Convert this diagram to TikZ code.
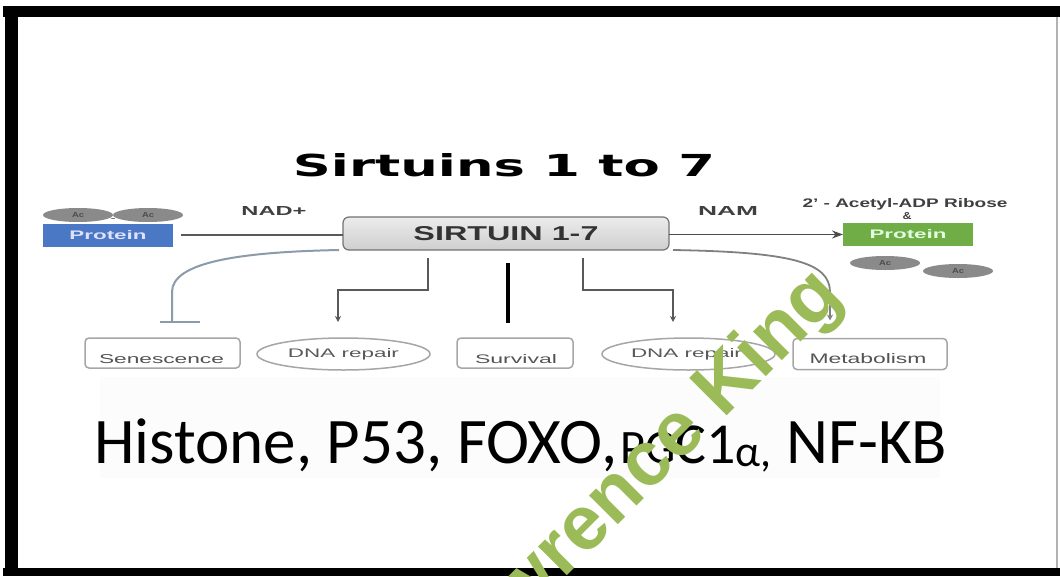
\documentclass[tikz,border=0pt]{standalone}
\usepackage{fontspec}
\setmainfont{Liberation Sans}
\newfontfamily\calib{Carlito}
\newfontfamily\heavy{DejaVu Sans}
\usetikzlibrary{arrows.meta,calc,shapes.geometric}
\definecolor{protblue}{HTML}{4A78C4}
\definecolor{protgreen}{HTML}{70AD47}
\definecolor{wmgreen}{HTML}{9BBB59}
\definecolor{acgray}{HTML}{8A8A8A}
\definecolor{inhib}{HTML}{8C9BAA}
\newcommand{\fitt}[3]{\resizebox{#1pt}{#2pt}{#3}}
\begin{document}
\begin{tikzpicture}[x=1pt,y=-1pt,
  every node/.style={inner sep=0pt, outer sep=0pt},
  boxr/.style={draw=gray!70, line width=1.5pt, rounded corners=4pt, fill=white},
  ellr/.style={ellipse, draw=gray!70, line width=1.5pt, fill=white},
  lbl/.style={text=gray!65!black, anchor=base},
  blbl/.style={text=black!75, font=\bfseries, anchor=base},
  acdisc/.style={ellipse, fill=acgray, minimum width=70pt, minimum height=14pt, text=black!70, font=\bfseries},
  conn/.style={draw=black!65, line width=1.4pt},
  smallarrow/.style={-{Stealth[length=6pt,width=6pt]}},
]
\useasboundingbox (0,0) rectangle (1060,576);
% frame
\fill[white] (0,0) rectangle (1060,576);
\fill[black] (3,6) rectangle (1060,17);
\fill[black] (5,6) rectangle (18,576);
\fill[black] (3,568) rectangle (1060,576);
\draw[gray!60, line width=1.2pt] (1057,17) -- (1057,568);
\fill[gray!2.5] (100,377) rectangle (940,478);

% title
\node[font=\heavy\bfseries] (title) at (504,165) {\fitt{422}{23}{Sirtuins 1 to 7}};

% left protein with acetyl groups
\node[acdisc] (acl1) at (78,215) {\fitt{12}{5}{Ac}};
\node[acdisc] (acl2) at (148,215) {\fitt{12}{5}{Ac}};
\node[text=black!70, font=\bfseries] (acdash) at (113,219) {\fitt{5}{2}{-}};
\node[fill=protblue, minimum width=130pt, minimum height=23pt, text=white!88!blue, font=\bfseries] (pl) at (108,235) {\fitt{77}{9}{Protein}};

% sirtuin box
\node[draw=black!55, line width=1.2pt, rounded corners=6pt, top color=gray!15, bottom color=gray!38, minimum width=326pt, minimum height=33pt, font=\bfseries, text=black!80] (sirt) at (506,233.5) {\fitt{185}{14}{SIRTUIN 1-7}};

% right protein
\node[fill=protgreen, minimum width=130pt, minimum height=23pt, text=green!12!white, font=\bfseries] (pr) at (908,234.5) {\fitt{77}{9}{Protein}};
\node[acdisc] (acr1) at (885,263) {\fitt{12}{5}{Ac}};
\node[acdisc] (acr2) at (958,271) {\fitt{12}{5}{Ac}};

% labels on top line
\node[blbl] (nad) at (274,215) {\fitt{65}{9}{NAD+}};
\node[blbl] (nam) at (728,215) {\fitt{60}{9}{NAM}};
\node[blbl] (acet) at (905,207) {\fitt{205}{9}{2' - Acetyl-ADP Ribose}};
\node[blbl] (amp) at (907,219) {\fitt{9}{7}{\&}};

% top connectors
\draw[conn, shorten <=8pt] (pl.east) -- (pl.east -| sirt.west);
\draw[conn, draw=black!70, -{Stealth[length=11pt,width=8pt]}] (sirt.east |- pr.west) -- (pr.west);

% bottom targets
\node[boxr, minimum width=155pt, minimum height=30pt] (sen) at (162.5,353) {};
\node[ellr, minimum width=173pt, minimum height=32pt] (dnal) at (343.5,354) {};
\node[boxr, minimum width=116pt, minimum height=30pt] (surv) at (515,353) {};
\node[ellr, minimum width=173pt, minimum height=32pt] (dnar) at (688.5,354) {};
\node[boxr, minimum width=154pt, minimum height=31pt] (met) at (870,354) {};

\node[lbl] (sent) at ($(sen.center)+(-1,10)$) {\fitt{125}{9}{Senescence}};
\node[lbl, text=black!65] (dnalt) at ($(dnal.center)+(0,3)$) {\fitt{111}{9}{DNA repair}};
\node[lbl] (survt) at ($(surv.center)+(1,10)$) {\fitt{82}{9}{Survival}};
\node[lbl, text=black!65] (dnart) at ($(dnar.center)+(-2,3)$) {\fitt{111}{9}{DNA repair}};
\node[lbl] (mett) at ($(met.center)+(-2,9)$) {\fitt{117}{10}{Metabolism}};

% bottom connectors
\draw[inhib, line width=2pt] ($(sirt.south west)+(-4,0)$) .. controls (240,252) and (172,262) .. (172,292) -- ($(sen.north)+(9.5,-16)$) coordinate (inh);
\draw[inhib, line width=2pt] ($(inh)+(-12,0)$) -- ($(inh)+(28,0)$);
\draw[conn, smallarrow] ($(sirt.south)+(-78,8)$) -- ++(0,32) -| ($(dnal.north)+(-5.5,-16)$);
\draw[black, line width=4pt] ($(sirt.south)+(2,13)$) -- ($(surv.north)+(-7,-15)$);
\draw[conn, smallarrow] ($(sirt.south)+(77,8)$) -- ++(0,32) -| ($(dnar.north)+(-15.5,-16)$);
\draw[draw=black!50, line width=1.8pt, smallarrow] ($(sirt.south east)+(4,0)$) .. controls (790,252) and (830,262) .. (830,292) -- ($(met.north)+(-40,-18)$);

% big text
\node[anchor=base west, font=\calib\fontsize{65}{65}\selectfont, text=black] (targets) at (94,463) {Histone, P53, FOXO,\hspace{3pt}{\fontsize{48}{48}\selectfont PG}{\fontsize{58}{58}\selectfont C1}\raisebox{-3pt}{\fontsize{44}{44}\selectfont α,} NF-KB};

% watermark
\begin{scope}
\clip (0,0) rectangle (1060,576);
\node[font=\bfseries\fontsize{77}{77}\selectfont, text=wmgreen, rotate=45] (wm) at (637,478) {Lawrence King};
\end{scope}
\end{tikzpicture}
\end{document}
